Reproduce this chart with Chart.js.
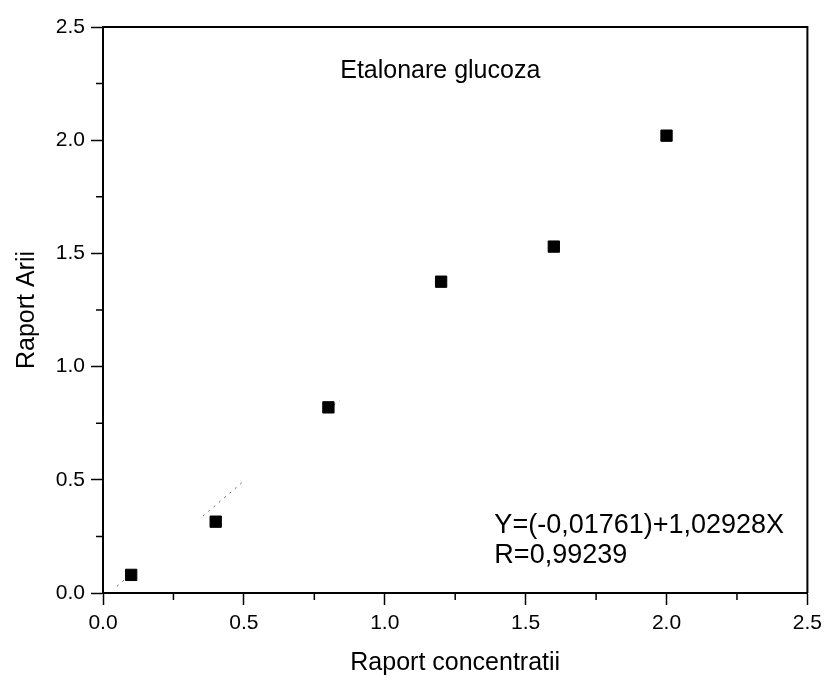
<!DOCTYPE html>
<html>
<head>
<meta charset="utf-8">
<script src="https://cdn.jsdelivr.net/npm/chart.js@4"></script>
<style>
html,body{margin:0;padding:0;background:#fff;}
#wrap{width:828px;height:682px;}
</style>
</head>
<body>
<div id="wrap"><canvas id="c" width="828" height="682"></canvas></div>
<script>
// ---- data ----
const concRatio = [0.10, 0.40, 0.80, 1.20, 1.60, 2.00];
const areaRatio = [0.08, 0.315, 0.82, 1.375, 1.53, 2.02];
// visible fragments of the dotted fit line (x, y); null y = gap
const fitX = [0.05, 0.10, 0.20, 0.355, 0.50, 0.60, 0.80, 0.84];
const fitY = [0.03, 0.085, null, 0.34, 0.495, null, 0.81, 0.85];
const chartTitle = 'Etalonare glucoza';
const xTitle = 'Raport concentratii';
const yTitle = 'Raport Arii';
const eqLines = ['Y=(-0,01761)+1,02928X', 'R=0,99239'];

const FONT = "'Liberation Sans', Arial, Helvetica, sans-serif";
const isMajor = v => Math.abs(v / 0.5 - Math.round(v / 0.5)) < 1e-6;

const points = concRatio.map((x, i) => ({x, y: areaRatio[i]}));
const fit = fitX.map((x, i) => ({x, y: fitY[i]}));

const decor = {
  id: 'decor',
  afterDraw(chart) {
    const {ctx, chartArea: a, scales} = chart;
    const xs = scales.x, ys = scales.y;
    ctx.save();
    // frame (top & right)
    ctx.strokeStyle = '#000';
    ctx.lineWidth = 2;
    ctx.beginPath();
    ctx.moveTo(a.left, a.top); ctx.lineTo(a.right, a.top); ctx.lineTo(a.right, a.bottom);
    ctx.stroke();
    // minor ticks
    ctx.lineWidth = 1.5;
    ctx.beginPath();
    for (let v = 0.25; v < 2.5; v += 0.5) {
      const px = xs.getPixelForValue(v);
      ctx.moveTo(px, a.bottom); ctx.lineTo(px, a.bottom + 7);
      const py = ys.getPixelForValue(v);
      ctx.moveTo(a.left, py); ctx.lineTo(a.left - 7, py);
    }
    ctx.stroke();
    // title inside plot
    ctx.fillStyle = '#000';
    ctx.font = '25px ' + FONT;
    ctx.textAlign = 'center';
    ctx.textBaseline = 'alphabetic';
    ctx.fillText(chartTitle, xs.getPixelForValue(1.197), ys.getPixelForValue(2.276));
    // equation
    ctx.font = '27px ' + FONT;
    ctx.textAlign = 'left';
    const ex = xs.getPixelForValue(1.389);
    ctx.fillText(eqLines[0], ex, ys.getPixelForValue(0.266));
    ctx.fillText(eqLines[1], ex, ys.getPixelForValue(0.134));
    ctx.restore();
  }
};

new Chart(document.getElementById('c'), {
  type: 'scatter',
  data: {
    datasets: [
      {
        label: 'data',
        data: points,
        pointStyle: 'rect',
        pointRadius: 8,
        pointHoverRadius: 8,
        backgroundColor: '#000',
        borderColor: '#000',
        borderWidth: 1,
        order: 1
      },
      {
        label: 'fit',
        data: fit,
        showLine: true,
        spanGaps: false,
        borderColor: '#666',
        borderWidth: 1,
        borderDash: [2, 5],
        pointRadius: 0,
        order: 2
      }
    ]
  },
  options: {
    responsive: false,
    animation: false,
    events: [],
    layout: {padding: {top: 27, right: 20, left: 0, bottom: 0}},
    plugins: {legend: {display: false}, tooltip: {enabled: false}, title: {display: false}},
    scales: {
      x: {
        type: 'linear', min: 0, max: 2.5,
        afterFit(s) { s.height = 89; },
        border: {color: '#000', width: 2},
        grid: {
          drawOnChartArea: false, drawTicks: true, tickLength: 12, tickWidth: 1.5,
          tickColor: c => isMajor(c.tick.value) ? '#000' : 'rgba(0,0,0,0)'
        },
        ticks: {
          stepSize: 0.25, autoSkip: false, maxRotation: 0, color: '#000', padding: 6,
          font: {family: FONT, size: 21},
          callback: v => isMajor(v) ? v.toFixed(1) : ''
        },
        title: {display: true, text: xTitle, color: '#000', font: {family: FONT, size: 25}, padding: {top: 0, bottom: 4}}
      },
      y: {
        type: 'linear', min: 0, max: 2.5,
        afterFit(s) { s.width = 103; },
        border: {color: '#000', width: 2},
        grid: {
          drawOnChartArea: false, drawTicks: true, tickLength: 12, tickWidth: 1.5,
          tickColor: c => isMajor(c.tick.value) ? '#000' : 'rgba(0,0,0,0)'
        },
        ticks: {
          stepSize: 0.25, autoSkip: false, color: '#000', padding: 6,
          font: {family: FONT, size: 21},
          callback: v => isMajor(v) ? v.toFixed(1) : ''
        },
        title: {display: true, text: yTitle, color: '#000', font: {family: FONT, size: 25}, padding: {top: 12, bottom: 0}}
      }
    }
  },
  plugins: [decor]
});
</script>
</body>
</html>
